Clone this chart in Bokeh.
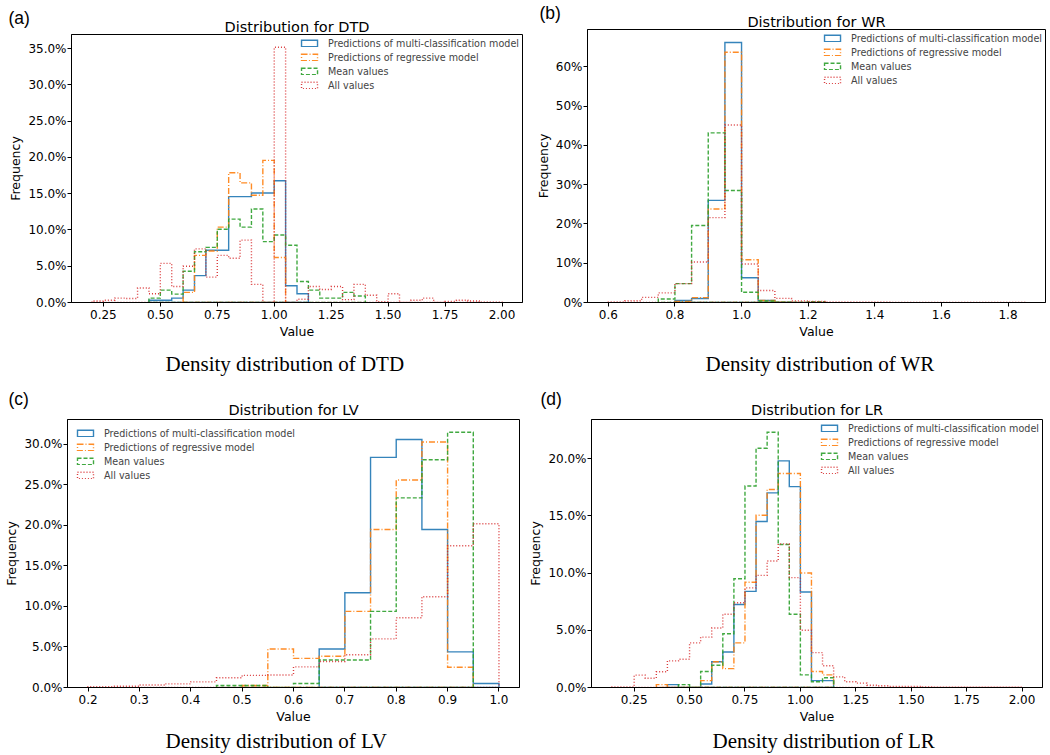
import numpy as np
from bokeh.plotting import figure
from bokeh.layouts import column, row
from bokeh.models import Range1d, Title, PrintfTickFormatter, FixedTicker
from bokeh.embed import file_html
from bokeh.resources import INLINE

# ---------------- data (percent of samples per 0.05-wide bin) ----------------
BIN_WIDTH = 0.05
SERIES_NAMES = ["Predictions of multi-classification model",
                "Predictions of regressive model",
                "Mean values",
                "All values"]

# (a) DTD
dtd_multi_start = 0.45
dtd_multi = [0.3, 0.3, 0.6, 1.7, 3.7, 7.2, 7.2, 14.6, 14.6, 15.1, 15.1, 16.8, 2.3, 1.2]
dtd_reg_start = 0.60
dtd_reg = [1.4, 6.5, 7.1, 10.4, 17.9, 16.5, 14.8, 19.6, 6.2]
dtd_mean_start = 0.45
dtd_mean = [0.6, 1.7, 1.15, 4.3, 7.0, 7.6, 10.1, 11.5, 10.4, 12.9, 8.4, 9.3, 7.9, 2.9,
            1.7, 0.6, 0.6, 1.4, 0.9]
dtd_all_start = 0.20
dtd_all = [0.2, 0.3, 0.6, 0.55, 2.0, 1.2, 5.4, 2.2, 5.0, 7.4, 3.5, 6.5, 6.1, 8.6, 2.5, 0.0,
           35.2, 0.0, 0.45, 2.2, 1.8, 2.2, 0.4, 2.5, 1.0, 0.1, 1.2, 0.0, 0.3, 0.6, 0.0,
           0.15, 0.3, 0.2, 0.05, 0.05]
dtd_xticks = [0.25, 0.50, 0.75, 1.00, 1.25, 1.50, 1.75, 2.00]
dtd_yticks = [0, 5, 10, 15, 20, 25, 30, 35]

# (b) WR
wr_multi_start = 0.80
wr_multi = [0.5, 1.0, 26.0, 66.2, 6.3, 0.5, 0.1]
wr_reg_start = 0.80
wr_reg = [0.25, 1.25, 23.8, 63.7, 10.9, 0.5, 0.1]
wr_mean_start = 0.75
wr_mean = [0.9, 4.8, 19.6, 43.2, 28.5, 2.6, 0.4, 0.1, 0.1, 0.2]
wr_all_start = 0.60
wr_all = [0.1, 0.45, 1.3, 2.45, 4.8, 10.3, 21.6, 45.2, 9.8, 3.05, 1.05, 0.4, 0.25,
          0.1, 0.05, 0.05, 0.05, 0.02, 0.02, 0.02, 0.02, 0.02, 0.02, 0.02, 0.02]
wr_xticks = [0.6, 0.8, 1.0, 1.2, 1.4, 1.6, 1.8]
wr_yticks = [0, 10, 20, 30, 40, 50, 60]

# (c) LV
lv_multi_start = 0.65
lv_multi = [4.75, 11.7, 28.4, 30.6, 19.5, 4.4, 0.5]
lv_reg_start = 0.50
lv_reg = [0.25, 4.75, 3.6, 3.85, 9.4, 19.5, 25.6, 30.3, 2.5]
lv_mean_start = 0.45
lv_mean = [0.25, 0.25, 0.0, 0.5, 3.4, 3.4, 9.4, 23.4, 28.1, 31.5]
lv_all_start = 0.20
lv_all = [0.1, 0.15, 0.3, 0.45, 0.7, 1.2, 1.5, 1.55, 2.55, 3.2, 4.05, 6.0, 8.6, 11.2,
          17.5, 20.2]
lv_xticks = [0.2, 0.3, 0.4, 0.5, 0.6, 0.7, 0.8, 0.9, 1.0]
lv_yticks = [0, 5, 10, 15, 20, 25, 30]

# (d) LR
lr_multi_start = 0.40
lr_multi = [0.25, 0.0, 0.0, 0.3, 2.25, 3.1, 7.25, 8.4, 14.5, 17.0, 19.8, 17.55, 8.35,
            0.6, 0.6]
lr_reg_start = 0.35
lr_reg = [0.25, 0.0, 0.0, 0.0, 0.6, 2.25, 1.65, 3.9, 9.2, 15.05, 17.3, 18.7, 18.7, 10.0,
          1.4, 1.1]
lr_mean_start = 0.45
lr_mean = [0.25, 0.0, 1.4, 1.95, 4.7, 9.5, 17.6, 20.9, 22.3, 12.5, 6.4, 1.1, 0.5, 0.85]
lr_all_start = 0.15
lr_all = [0.05, 0.05, 1.08, 0.81, 1.37, 2.33, 2.47, 3.9, 4.4, 5.2, 6.4, 7.4, 8.7, 9.8,
          11.05, 12.55, 9.6, 5.0, 3.05, 1.9, 0.93, 0.5, 0.38, 0.2, 0.15, 0.1, 0.1, 0.1,
          0.05, 0.03, 0.03, 0.03, 0.02, 0.02, 0.02, 0.02, 0.02]
lr_xticks = [0.25, 0.50, 0.75, 1.00, 1.25, 1.50, 1.75, 2.00]
lr_yticks = [0, 5, 10, 15, 20]

# ---------------- styling ----------------
COLORS = ["#1f77b4", "#ff7f0e", "#2ca02c", "#d62728"]
DASHES = ["solid", "6 2 1 2", "4 2", "1 2"]
LW = 1.4
ALPHA = 0.9
FONT = "DejaVu Sans"


def step_path(start, heights):
    h = np.asarray(heights, dtype=float)
    edges = start + BIN_WIDTH * np.arange(len(h) + 1)
    xs = np.repeat(edges, 2)
    ys = np.concatenate([[0.0], np.repeat(h, 2), [0.0]])
    return xs, ys


def make_panel(series, width, height, borders, xticks, xfmt, yticks, yfmt,
               title, letter, caption, title_standoff, letter_offset,
               caption_offset, caption_standoff, legend_loc, legend_margin):
    bl, br, bt, bb = borders
    starts = [s for s, h in series]
    ends = [s + BIN_WIDTH * len(h) for s, h in series]
    xmin, xmax = min(starts), max(ends)
    pad = 0.05 * (xmax - xmin)
    ymax = max(max(h) for s, h in series) * 1.05
    p = figure(width=width, height=height, title=None,
               x_range=Range1d(xmin - pad, xmax + pad), y_range=Range1d(0, ymax),
               output_backend="svg", toolbar_location=None,
               min_border_left=bl, min_border_right=br,
               min_border_top=bt, min_border_bottom=bb)
    p.xgrid.visible = False
    p.ygrid.visible = False
    p.outline_line_color = "black"
    p.outline_line_width = 1
    p.outline_line_alpha = 1
    p.background_fill_color = "white"
    p.border_fill_color = "white"

    for (start, heights), name, c, d in zip(series, SERIES_NAMES, COLORS, DASHES):
        xs, ys = step_path(start, heights)
        p.patch(xs, ys, fill_alpha=0, line_color=c, line_dash=d, line_width=LW,
                line_alpha=ALPHA, line_join="miter", legend_label=name)

    leg = p.legend[0]
    leg.location = legend_loc
    leg.margin = legend_margin
    leg.padding = 3
    leg.spacing = 2
    leg.label_height = 12
    leg.glyph_width = 20
    leg.glyph_height = 8
    leg.label_standoff = 9
    leg.label_text_font = FONT
    leg.label_text_font_size = "9.6px"
    leg.border_line_alpha = 0
    leg.background_fill_alpha = 0

    for ax in (p.xaxis[0], p.yaxis[0]):
        ax.axis_line_color = "black"
        ax.major_tick_line_color = "black"
        ax.major_tick_out = 4
        ax.major_tick_in = 0
        ax.minor_tick_line_color = None
        ax.major_label_text_font = FONT
        ax.major_label_text_font_size = "12px"
        ax.major_label_text_color = "black"
        ax.axis_label_text_font = FONT
        ax.axis_label_text_font_size = "12.5px"
        ax.axis_label_text_font_style = "normal"
        ax.axis_label_text_color = "black"
    p.xaxis.major_label_standoff = 3
    p.xaxis.axis_label_standoff = 2
    p.yaxis.major_label_standoff = 1
    p.yaxis.axis_label_standoff = 2
    p.xaxis.ticker = FixedTicker(ticks=xticks)
    p.yaxis.ticker = FixedTicker(ticks=yticks)
    p.xaxis.formatter = PrintfTickFormatter(format=xfmt)
    p.yaxis.formatter = PrintfTickFormatter(format=yfmt)
    p.xaxis.axis_label = "Value"
    p.yaxis.axis_label = "Frequency"

    # main title (nearest to the frame), then the panel letter stacked above it
    p.add_layout(Title(text=title, align="center", vertical_align="middle",
                       standoff=title_standoff, text_font=FONT,
                       text_font_size="14.5px", text_font_style="normal",
                       text_color="black"), "above")
    p.add_layout(Title(text=letter, align="left", vertical_align="middle",
                       offset=letter_offset, standoff=-20,
                       text_font="Liberation Sans", text_font_size="17.5px",
                       text_font_style="normal", text_color="black"), "above")
    # caption below the x axis
    p.add_layout(Title(text=caption, align="left", vertical_align="middle",
                       offset=caption_offset, standoff=caption_standoff,
                       text_font="Liberation Serif", text_font_size="21px",
                       text_font_style="normal", text_color="black"), "below")
    return p


p1 = make_panel([(dtd_multi_start, dtd_multi), (dtd_reg_start, dtd_reg),
                 (dtd_mean_start, dtd_mean), (dtd_all_start, dtd_all)],
                528, 386, (71, 6, 34, 84), dtd_xticks, "%.2f", dtd_yticks, "%.1f%%",
                "Distribution for DTD", "(a)", "Density distribution of DTD",
                -2, -63, 94, 19, "top_right", 0)

p2 = make_panel([(wr_multi_start, wr_multi), (wr_reg_start, wr_reg),
                 (wr_mean_start, wr_mean), (wr_all_start, wr_all)],
                522, 386, (59, 5, 29, 84), wr_xticks, "%.1f", wr_yticks, "%d%%",
                "Distribution for WR", "(b)", "Density distribution of WR",
                -2, -48, 118, 19, "top_right", 0)

p3 = make_panel([(lv_multi_start, lv_multi), (lv_reg_start, lv_reg),
                 (lv_mean_start, lv_mean), (lv_all_start, lv_all)],
                522, 368, (67, 3, 33, 67), lv_xticks, "%.1f", lv_yticks, "%.1f%%",
                "Distribution for LV", "(c)", "Density distribution of LV",
                2, -59, 98, 2, "top_left", 5)

p4 = make_panel([(lr_multi_start, lr_multi), (lr_reg_start, lr_reg),
                 (lr_mean_start, lr_mean), (lr_all_start, lr_all)],
                528, 368, (69, 8, 33, 67), lr_xticks, "%.2f", lr_yticks, "%.1f%%",
                "Distribution for LR", "(d)", "Density distribution of LR",
                2, -51, 121, 2, "top_right", 0)

# each panel wrapped in its own column so the row does not align the frames
layout = column(row(column(p1), column(p2)), row(column(p3), column(p4)))
open("out.html", "w").write(file_html(layout, INLINE))
